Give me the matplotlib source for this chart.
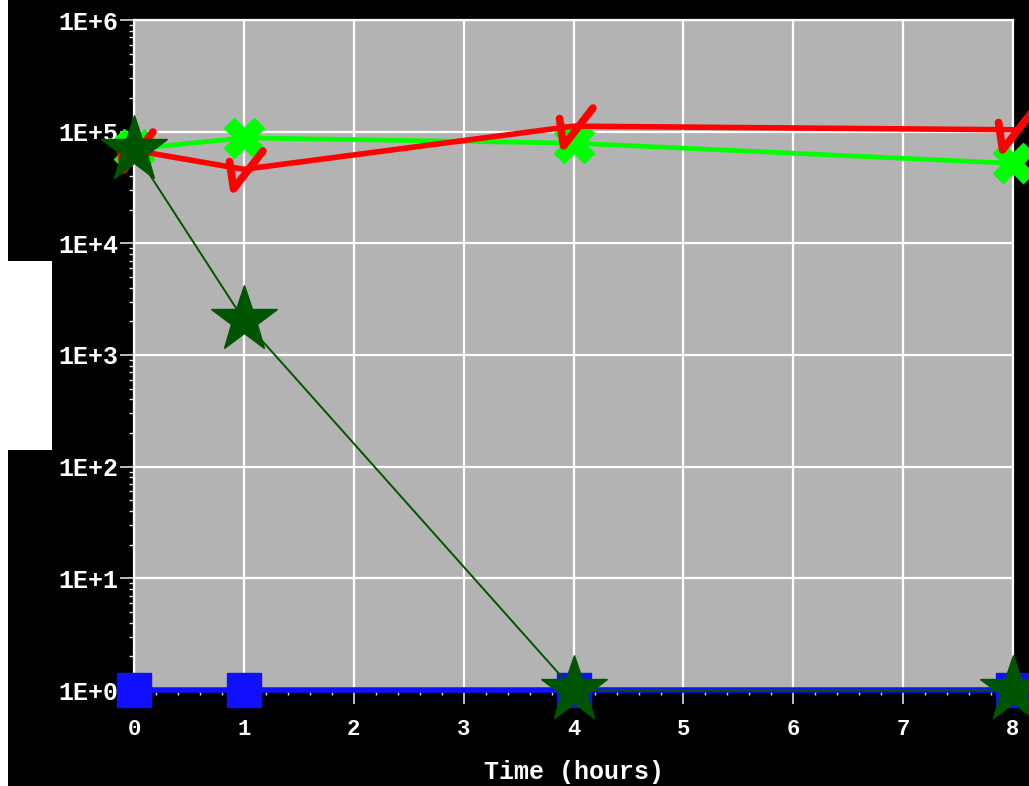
import numpy as np
import matplotlib.pyplot as plt
from matplotlib.path import Path
from matplotlib.markers import MarkerStyle
from matplotlib.patches import Rectangle
from matplotlib.ticker import LogLocator, FuncFormatter, MultipleLocator

# data
hours = [0, 1, 4, 8]
blue_vals = [1, 1, 1, 1]
green_vals = [7.0e4, 8.8e4, 7.9e4, 5.2e4]
red_vals = [6.8e4, 4.6e4, 1.12e5, 1.04e5]
star_vals = [6.8e4, 2.05e3, 1, 1]
ytick_vals = [1e0, 1e1, 1e2, 1e3, 1e4, 1e5, 1e6]

font = 'Liberation Mono'

# check mark marker
check = MarkerStyle(Path([(-15, 8), (-11, -19.5), (18.5, 18.5)],
                         [Path.MOVETO, Path.LINETO, Path.LINETO]),
                    capstyle='round', joinstyle='round')

fig = plt.figure(figsize=(10.29, 7.86), dpi=100)
fig.patch.set_facecolor('black')
fig.patches.append(Rectangle((0, 0), 8/1029, 1, transform=fig.transFigure,
                             facecolor='white', edgecolor='none', zorder=0))
fig.patches.append(Rectangle((0, 1-450/786), 52/1029, 189/786, transform=fig.transFigure,
                             facecolor='white', edgecolor='none', zorder=0))

ax = fig.add_axes([134/1029, 1-690/786, 879/1029, 670/786])
ax.set_facecolor('#b3b3b3')
ax.set_yscale('log')
ax.set_xlim(0, 8)
ax.set_ylim(1, 1e6)

ax.grid(True, which='major', color='white', lw=1.6)
ax.set_axisbelow(True)

ax.plot(hours, blue_vals, color='#1010ff', lw=4, marker='s', ms=24,
        mec='#1010ff', clip_on=False, zorder=3)
ax.plot(hours, green_vals, color='#00ff00', lw=3.4, marker='X', ms=29,
        mec='#00ff00', clip_on=False, zorder=4)
ax.plot(hours, red_vals, color='#ff0000', lw=4, marker=check, ms=28,
        mfc='none', mec='#ff0000', mew=5.5, clip_on=False, zorder=5)
ax.plot(hours, star_vals, color='#005500', lw=1.4, marker='*', ms=50,
        mec='#005500', clip_on=False, zorder=6)

for s in ['left', 'top', 'right']:
    ax.spines[s].set_color('white')
    ax.spines[s].set_linewidth(1.6)
ax.spines['bottom'].set_visible(False)

ax.xaxis.set_major_locator(MultipleLocator(1))
ax.xaxis.set_minor_locator(MultipleLocator(0.2))
ax.set_yticks(ytick_vals)
ax.yaxis.set_minor_locator(LogLocator(base=10, subs=np.arange(2, 10)))
ax.yaxis.set_major_formatter(FuncFormatter(lambda v, p: '1E+%d' % round(np.log10(v))))
ax.yaxis.set_minor_formatter(FuncFormatter(lambda v, p: ''))

ax.tick_params(which='major', direction='out', colors='#dddddd', length=10, width=1.2,
               labelcolor='white')
ax.tick_params(which='minor', direction='out', colors='#dddddd', length=3.5, width=1)
ax.tick_params(axis='x', which='major', pad=11, labelsize=16)
ax.tick_params(axis='y', which='major', pad=1, labelsize=18)
for lab in ax.get_xticklabels() + ax.get_yticklabels():
    lab.set_fontfamily(font)
    lab.set_fontweight('bold')

ax.set_xlabel('Time (hours)', color='white', fontsize=18, fontweight='bold',
              fontfamily=font, labelpad=14)

fig.savefig('out.png', dpi=100, facecolor=fig.get_facecolor())
